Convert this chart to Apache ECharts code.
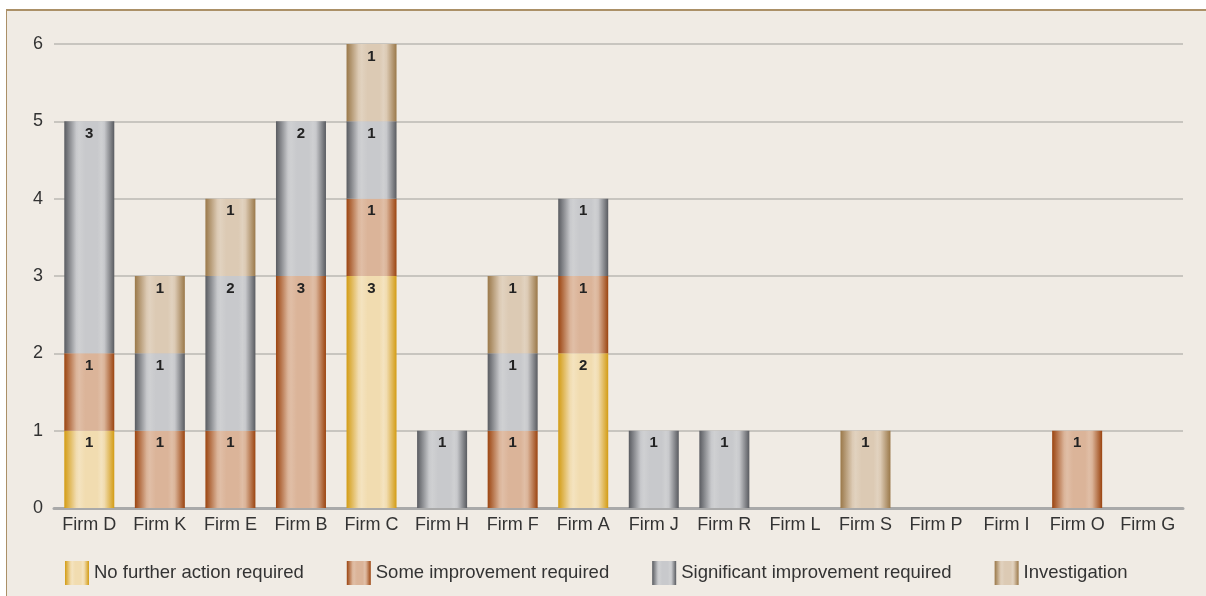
<!DOCTYPE html>
<html>
<head>
<meta charset="utf-8">
<script src="https://cdn.jsdelivr.net/npm/echarts@6/dist/echarts.min.js"></script>
<style>
html,body{margin:0;padding:0;background:#fff;width:1206px;height:596px;overflow:hidden;}
#frame{position:absolute;left:6px;top:9px;width:1200px;height:587px;background:#f0ebe4;border-top:2px solid #ab9067;border-left:1.5px solid #ab9067;box-sizing:border-box;}
#chart{position:absolute;left:0;top:0;width:1199px;height:585px;}
</style>
</head>
<body>
<div id="frame"><div id="chart"></div></div>
<script>
const categories = ['Firm D','Firm K','Firm E','Firm B','Firm C','Firm H','Firm F','Firm A','Firm J','Firm R','Firm L','Firm S','Firm P','Firm I','Firm O','Firm G'];
const seriesNames = ['No further action required','Some improvement required','Significant improvement required','Investigation'];
const noFurtherAction = [1,null,null,null,3,null,null,2,null,null,null,null,null,null,null,null];
const someImprovement = [1,1,1,3,1,null,1,1,null,null,null,null,null,null,1,null];
const significantImprovement = [3,1,2,2,1,1,1,1,1,1,null,null,null,null,null,null];
const investigation = [null,1,1,null,1,null,1,null,null,null,null,1,null,null,null,null];
const yTicks = [0,1,2,3,4,5,6];

function grad(edge, mid, light){
  return new echarts.graphic.LinearGradient(0,0,1,0,[
    {offset:0,color:edge},
    {offset:0.24,color:mid},
    {offset:0.3,color:light},
    {offset:0.42,color:mid},
    {offset:0.66,color:mid},
    {offset:0.74,color:light},
    {offset:0.8,color:mid},
    {offset:1,color:edge}
  ]);
}
const styles = [
  grad('#d39c14','#f1dcb0','#f4e3bf'),
  grad('#9b4410','#dbb499','#e0bea6'),
  grad('#595b60','#c8c9cc','#cfd0d2'),
  grad('#9a7849','#dccab4','#e1d2bf')
];
const dataSets = [noFurtherAction, someImprovement, significantImprovement, investigation];

const chart = echarts.init(document.getElementById('chart'), null, {renderer:'canvas'});
chart.setOption({
  backgroundColor:'transparent',
  animation:false,
  textStyle:{fontFamily:'Liberation Sans, Arial, sans-serif'},
  grid:{left:47,right:23,top:33,bottom:88},
  legend:{
    left:53, top:545,
    itemWidth:24, itemHeight:24, itemGap:43,
    icon:'rect',
    textStyle:{fontSize:18.5,color:'#333'},
    data:seriesNames
  },
  xAxis:{
    type:'category',
    data:categories,
    axisTick:{show:false},
    axisLine:{lineStyle:{color:'#a9a9a9',width:3}},
    axisLabel:{fontSize:18,color:'#333',margin:8,interval:0,hideOverlap:false}
  },
  yAxis:{
    type:'value',min:0,max:6,interval:1,
    axisLine:{show:false},axisTick:{show:false},
    splitLine:{lineStyle:{color:'#bbb8b3',width:1.5}},
    axisLabel:{fontSize:18,color:'#333',margin:11,formatter:v=>yTicks.includes(v)?String(v):''}
  },
  series:seriesNames.map((n,i)=>({
    name:n,type:'bar',stack:'total',barWidth:50,
    data:dataSets[i],
    itemStyle:{color:styles[i]},
    label:{show:true,position:'insideTop',distance:5,fontSize:15,fontWeight:'bold',color:'#222'}
  }))
});
</script>
</body>
</html>
